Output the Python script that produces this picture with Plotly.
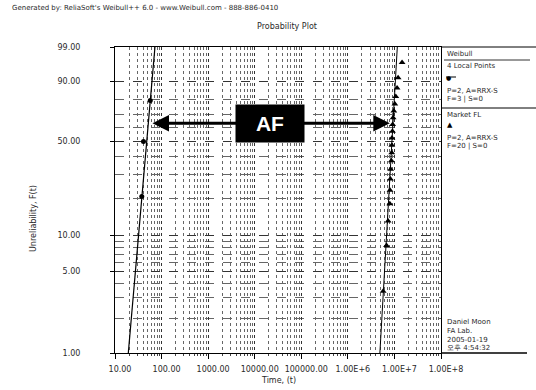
import numpy as np
import plotly.graph_objects as go

# ---------------- data ----------------
local_time = [37.6, 40.9, 57.2]
local_F = [20.6, 50.0, 79.4]
local_fit_time = [19.3, 72.1]
local_fit_F = [1.0, 99.0]

market_time = [5.73e6, 6.77e6, 7.32e6, 7.95e6, 8.05e6, 8.2e6, 8.3e6, 8.6e6, 8.75e6, 8.8e6,
               8.85e6, 9.05e6, 9.15e6, 9.38e6, 9.71e6, 1.02e7, 1.07e7, 1.14e7, 1.2e7, 1.46e7]
market_F = [3.4, 8.3, 13.2, 18.1, 23.0, 27.9, 32.8, 37.7, 42.6, 47.5,
            52.5, 57.4, 62.3, 67.2, 72.1, 77.0, 81.9, 86.8, 91.7, 96.6]
market_fit_time = [4.87e6, 1.153e7]
market_fit_F = [1.0, 99.0]

af_span_time = [59.2, 7.96e6]
af_level_F = 63.2

y_tick_F = [1, 5, 10, 50, 90, 99]
y_tick_text = ["1.00", "5.00", "10.00", "50.00", "90.00", "99.00"]
y_grid_F = [2, 3, 4, 6, 7, 8, 9, 20, 30, 40, 60, 70, 80]
x_tick_vals = [1e1, 1e2, 1e3, 1e4, 1e5, 1e6, 1e7, 1e8]
x_tick_text = ["10.00", "100.00", "1000.00", "10000.00", "100000.00",
               "1.00E+6", "1.00E+7", "1.00E+8"]

legend_lines = [
    ("Weibull", 54),
    ("4 Local Points", 66),
    ("P=2, A=RRX-S", 91),
    ("F=3 | S=0", 99),
    ("Market FL", 115),
    ("P=2, A=RRX-S", 138),
    ("F=20 | S=0", 146),
    ("Daniel Moon", 322),
    ("FA Lab.", 331),
    ("2005-01-19", 340),
    ("오후 4:54:32", 348),
]


def wb(p):
    """Weibull probability-paper transform of a percentage."""
    p = np.asarray(p, dtype=float) / 100.0
    return np.log(-np.log(1.0 - p))


FONT = "DejaVu Sans"
TXT = "#2a2a2a"

fig = go.Figure()

fig.add_trace(go.Scatter(x=local_fit_time, y=wb(local_fit_F), mode="lines",
                         line=dict(color="black", width=1.2), showlegend=False,
                         hoverinfo="skip"))
fig.add_trace(go.Scatter(x=local_time, y=wb(local_F), mode="markers",
                         marker=dict(symbol="circle", size=5, color="black"),
                         showlegend=False))
fig.add_trace(go.Scatter(x=market_fit_time, y=wb(market_fit_F), mode="lines",
                         line=dict(color="black", width=1), showlegend=False,
                         hoverinfo="skip"))
fig.add_trace(go.Scatter(x=market_time, y=wb(market_F), mode="markers",
                         marker=dict(symbol="triangle-up", size=6, color="black"),
                         showlegend=False))

# minor x gridlines at 2..9 of every decade
x_minor = [m * 10 ** k for k in range(1, 8) for m in range(2, 10)]

ymin, ymax = float(wb(1.0)), float(wb(99.0))

fig.update_layout(
    width=536, height=390,
    margin=dict(l=115, r=95, t=47, b=37),
    paper_bgcolor="white", plot_bgcolor="white",
    font=dict(family=FONT, size=8, color=TXT),
    showlegend=False,
    xaxis=dict(
        type="log", range=[1, 8],
        tickmode="array", tickvals=x_tick_vals, ticktext=x_tick_text,
        ticks="outside", ticklen=5, tickcolor="black",
        ticklabelshift=5, ticklabelstandoff=3,
        showline=True, linecolor="black", linewidth=1, mirror=True,
        showgrid=True, gridcolor="#333333", griddash="dot", gridwidth=1,
        minor=dict(tickmode="array", tickvals=x_minor, showgrid=True,
                   gridcolor="#666666", griddash="dot", gridwidth=1,
                   ticks="outside", ticklen=2, tickcolor="#444444"),
        zeroline=False,
        tickfont=dict(family=FONT, size=8, color=TXT),
    ),
    yaxis=dict(
        range=[ymin, ymax],
        tickmode="array", tickvals=list(wb(y_tick_F)), ticktext=y_tick_text,
        ticks="outside", ticklen=4, tickcolor="black",
        ticklabelstandoff=28,
        showline=True, linecolor="black", linewidth=1, mirror=True,
        showgrid=True, gridcolor="#333333", griddash="dash", gridwidth=1,
        minor=dict(tickmode="array", tickvals=list(wb(y_grid_F)), showgrid=True,
                   gridcolor="#666666", griddash="dash", gridwidth=1),
        zeroline=False,
        tickfont=dict(family=FONT, size=8, color=TXT),
    ),
)

ann = []
# AF arrow (double headed)
ann.append(dict(x=np.log10(af_span_time[1]), y=float(wb(af_level_F)),
                ax=np.log10(af_span_time[0]), ay=float(wb(af_level_F)),
                xref="x", yref="y", axref="x", ayref="y", text="",
                showarrow=True, arrowhead=2, arrowside="end+start",
                arrowwidth=3, arrowsize=1.1, arrowcolor="black",
                standoff=0, startstandoff=0))
# AF box
ann.append(dict(x=float(np.mean(np.log10(af_span_time))), y=float(wb(af_level_F)),
                xref="x", yref="y", text="<b>AF</b>", showarrow=False,
                font=dict(family="Liberation Sans", size=21, color="white"),
                bgcolor="black", width=68, height=37, borderpad=0,
                xanchor="center", yanchor="middle"))

W, H = 326.0, 306.0
L, T = 115.0, 47.0


def px(xp):
    return (xp - L) / W


def py(yp):
    return (T + H - yp) / H


ann.append(dict(x=px(10), y=py(8), xref="paper", yref="paper", xanchor="left",
                yanchor="middle", showarrow=False,
                text="Generated by: ReliaSoft's Weibull++ 6.0 - www.Weibull.com - 888-886-0410",
                font=dict(family=FONT, size=7, color=TXT)))
ann.append(dict(x=px(287), y=py(26), xref="paper", yref="paper", xanchor="center",
                yanchor="middle", showarrow=False, text="Probability Plot",
                font=dict(family=FONT, size=8, color=TXT)))
ann.append(dict(x=px(278), y=py(381), xref="paper", yref="paper", xanchor="center",
                yanchor="middle", showarrow=False, text="Time, (t)",
                font=dict(family=FONT, size=8, color=TXT)))
ann.append(dict(x=px(33), y=py(219), xref="paper", yref="paper", xanchor="center",
                yanchor="middle", showarrow=False, text="Unreliability, F(t)",
                textangle=-90, font=dict(family=FONT, size=8, color=TXT)))

for txt, yy in legend_lines:
    ann.append(dict(x=px(445), y=py(yy), xref="paper", yref="paper", xanchor="left",
                    yanchor="middle", showarrow=False, text=txt,
                    font=dict(family=FONT, size=7, color=TXT)))
# legend symbols
ann.append(dict(x=px(448), y=py(77), xref="paper", yref="paper", xanchor="center",
                yanchor="middle", showarrow=False, text="●",
                font=dict(family=FONT, size=6, color="black")))
ann.append(dict(x=px(450), y=py(125), xref="paper", yref="paper", xanchor="center",
                yanchor="middle", showarrow=False, text="▲",
                font=dict(family=FONT, size=7, color="black")))

fig.update_layout(annotations=ann)

shapes = [
    dict(type="line", xref="paper", yref="paper", x0=1.0, x1=px(536), y0=1.0, y1=1.0,
         line=dict(color="black", width=1)),
    dict(type="line", xref="paper", yref="paper", x0=px(444), x1=px(530), y0=py(60), y1=py(60),
         line=dict(color="#333333", width=1)),
    dict(type="line", xref="paper", yref="paper", x0=px(446), x1=px(456), y0=py(77), y1=py(77),
         line=dict(color="black", width=1)),
    dict(type="line", xref="paper", yref="paper", x0=1.0, x1=px(536), y0=py(108), y1=py(108),
         line=dict(color="black", width=1)),
    dict(type="line", xref="paper", yref="paper", x0=1.0, x1=px(527), y0=0.0, y1=0.0,
         line=dict(color="black", width=1.5)),
]
fig.update_layout(shapes=shapes)

# remove the page's default 8px body margin so the figure sits at the window origin
fig.write_html("out.html", config={"displayModeBar": False},
               post_script="document.body.style.margin='0';")
